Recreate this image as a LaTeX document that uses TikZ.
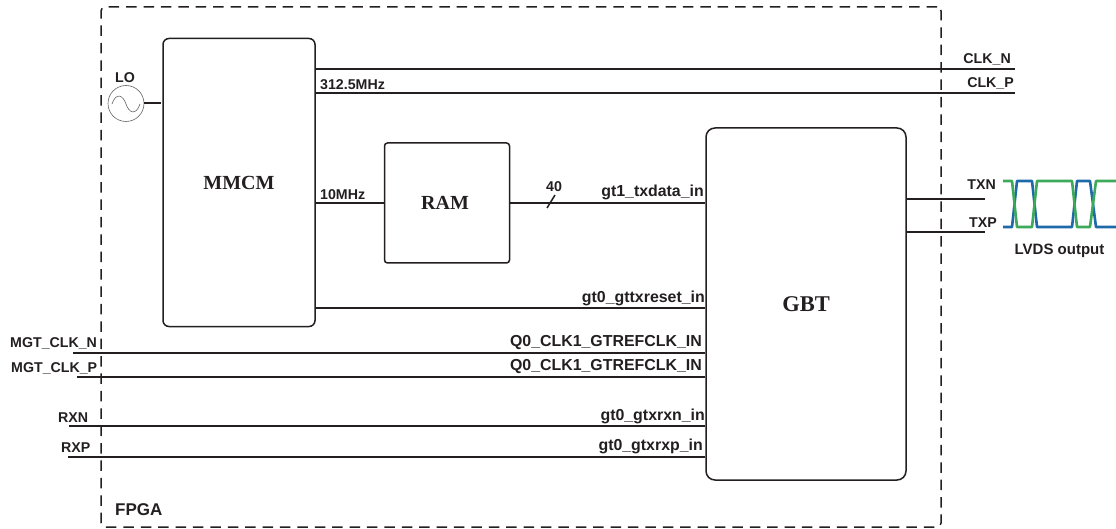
\documentclass[tikz,border=0pt]{standalone}
\usepackage{fontspec}
\setmainfont{Liberation Sans}
\newfontfamily\serifb{Liberation Serif}[Scale=1]
\definecolor{ink}{RGB}{35,31,32}
\definecolor{wgreen}{RGB}{60,170,90}
\definecolor{wblue}{RGB}{30,105,170}
\tikzset{
  blockbox/.style={draw=ink,line width=1.5pt,rounded corners=6pt,inner sep=0pt,font=\serifb\fontsize{20}{22}\selectfont\bfseries,text=ink},
  wire/.style={draw=ink,line width=2pt},
  lab/.style={font=\fontsize{14.2}{16}\selectfont\bfseries,text=ink,inner sep=0pt},
  biglab/.style={lab,font=\fontsize{15.9}{18}\selectfont\bfseries,anchor=south east},
  wave/.style={line width=2.6pt,line join=round},
}
\begin{document}
\begin{tikzpicture}[x=1pt,y=-1pt]
\useasboundingbox (0,0) rectangle (1116,529);
\node[draw=ink,line width=1.5pt,dash pattern=on 10.5pt off 6.9pt,rounded corners=4pt,minimum width=840pt,minimum height=520pt,inner sep=0pt] (fpga) at (521,267) {};
\node[blockbox,minimum width=152pt,minimum height=288pt] (mmcm) at (239,182.5) {MMCM};
\node[blockbox,minimum width=125pt,minimum height=120pt,rounded corners=3pt] (ram) at (447,203) {\raisebox{-1pt}{RAM}\kern4pt};
\node[blockbox,minimum width=200pt,minimum height=352pt,rounded corners=9pt,font=\serifb\fontsize{22.5}{24}\selectfont\bfseries] (gbt) at (806,304) {\raisebox{-1pt}{GBT}};
\node[circle,draw=ink!70,line width=.6pt,minimum size=36pt,inner sep=0pt] (lo) at (126,103.5) {};
\draw[ink!70,line width=.6pt] (112,104) .. controls (116,92) and (123,95) .. (126,104) .. controls (129,113) and (136,116) .. (140,104);
\node[lab,anchor=south] (lotxt) at (125,83) {LO};
\draw[wire] (lo.east) -- (161,103.5);
% clock outputs
\coordinate (clkn) at (1015,69);
\coordinate (clkp) at (1015,93);
\draw[wire] (mmcm.east |- clkn) -- (clkn);
\draw[wire] (mmcm.east |- clkp) -- (clkp);
\node[lab,anchor=south east] (clkntxt) at (1011,65) {CLK\_N};
\node[lab,anchor=south east] (clkptxt) at (1014,89) {CLK\_P};
\node[lab,anchor=south west] (f312) at (320,90) {312.5MHz};
% ram
\draw[wire] (mmcm.east |- ram.west) -- (ram.west);
\node[lab,anchor=south west] (f10) at (320,200) {10MHz};
\draw[wire] (ram.east) -- (gbt.west |- ram.east);
\coordinate (sa) at (547,208);
\coordinate (sb) at (555,195);
\draw[wire,line width=1.5pt] (sa) -- (sb);
\node[lab,anchor=south] (forty) at (554,192) {40};
\node[biglab] (txdata) at (704,200) {gt1\_txdata\_in};
% reset
\coordinate (rst) at (705,308);
\draw[wire] (mmcm.east |- rst) -- (rst);
\node[biglab] (rsttxt) at (705,306) {gt0\_gttxreset\_in};
% left inputs
\coordinate (mn) at (73,353);
\coordinate (mp) at (77,377);
\coordinate (rn) at (69,426);
\coordinate (rp) at (68,457);
\draw[wire] (mn) -- (gbt.west |- mn);
\draw[wire] (mp) -- (gbt.west |- mp);
\draw[wire] (rn) -- (gbt.west |- rn);
\draw[wire] (rp) -- (gbt.west |- rp);
\node[lab,anchor=south west] (mntxt) at (10,349) {MGT\_CLK\_N};
\node[lab,anchor=south west] (mptxt) at (11,374) {MGT\_CLK\_P};
\node[lab,anchor=south west] (rntxt) at (58,423) {RXN};
\node[lab,anchor=south west] (rptxt) at (61,453) {RXP};
\node[biglab] (q0a) at (702,350) {Q0\_CLK1\_GTREFCLK\_IN};
\node[biglab] (q0b) at (702,374) {Q0\_CLK1\_GTREFCLK\_IN};
\node[biglab] (rxn) at (705,424) {gt0\_gtxrxn\_in};
\node[biglab] (rxp) at (703,454) {gt0\_gtxrxp\_in};
% outputs
\coordinate (txn) at (985,199);
\coordinate (txp) at (985,232);
\draw[wire] (gbt.east |- txn) -- (txn);
\draw[wire] (gbt.east |- txp) -- (txp);
\node[lab,anchor=south east] (txntxt) at (996,190) {TXN};
\node[lab,anchor=south east] (txptxt) at (997,228) {TXP};
% waves
\draw[wave,wblue] (1003,227) -- (1012,227) -- (1017,181) -- (1032,181) -- (1037,227) -- (1072,227) -- (1077,181) -- (1090,181) -- (1096,227) -- (1116,227);
\draw[wave,wgreen] (1003,181) -- (1012,181) -- (1017,227) -- (1032,227) -- (1037,181) -- (1072,181) -- (1077,227) -- (1090,227) -- (1096,181) -- (1116,181);
\node[lab,anchor=south,font=\fontsize{15}{17}\selectfont\bfseries] (lvds) at (1059.5,258) {LVDS output};
\node[lab,anchor=south west,font=\fontsize{17}{19}\selectfont\bfseries] (fpgatxt) at (115,516) {FPGA};
\end{tikzpicture}
\end{document}
